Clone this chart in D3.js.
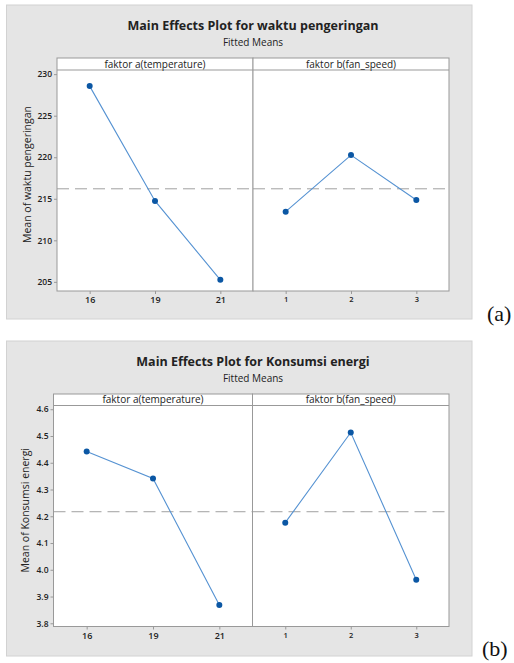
<!DOCTYPE html>
<html>
<head>
<meta charset="utf-8">
<script src="https://cdn.jsdelivr.net/npm/d3@7"></script>
<style>
  body { margin: 0; background: #fff; }
  svg { display: block; font-family: "Open Sans", "Noto Sans", sans-serif; }
</style>
</head>
<body>
<svg id="chart" width="514" height="663"></svg>
<script>
// factor levels
var levelsA = ["16", "19", "21"];
var levelsB = ["1", "2", "3"];
var factorNames = ["faktor a(temperature)", "faktor b(fan_speed)"];

// (a) waktu pengeringan
var waktuA = [228.56, 214.74, 205.24];
var waktuB = [213.45, 220.26, 214.86];
var waktuMean = 216.2;
var waktuTicks = [205, 210, 215, 220, 225, 230];

// (b) konsumsi energi
var energiA = [4.442, 4.341, 3.868];
var energiB = [4.176, 4.513, 3.963];
var energiMean = 4.217;
var energiTicks = [3.8, 3.9, 4.0, 4.1, 4.2, 4.3, 4.4, 4.5, 4.6];

var svg = d3.select("#chart");

function drawPlot(cfg) {
  var g = svg.append("g");

  // gray background panel
  g.append("rect")
    .attr("x", 6.5).attr("y", cfg.top)
    .attr("width", 465.5).attr("height", cfg.bottom - cfg.top)
    .attr("fill", "#e5e5e5").attr("stroke", "#d2d2d2");

  g.append("text")
    .attr("x", 253).attr("y", cfg.titleY)
    .attr("text-anchor", "middle")
    .attr("font-size", 12.5).attr("font-weight", 700).attr("fill", "#222")
    .text(cfg.title);
  g.append("text")
    .attr("x", 253).attr("y", cfg.titleY + 16)
    .attr("text-anchor", "middle")
    .attr("font-size", 10).attr("fill", "#222")
    .text("Fitted Means");

  var y = d3.scaleLinear().domain(cfg.domain).range([cfg.plotBottom, cfg.stripBottom]);

  var panels = [
    { x0: cfg.left, x1: cfg.mid, levels: levelsA, values: cfg.a, name: factorNames[0] },
    { x0: cfg.mid, x1: cfg.right, levels: levelsB, values: cfg.b, name: factorNames[1] }
  ];

  panels.forEach(function (p, i) {
    var x = d3.scalePoint().domain(p.levels).range([p.x0, p.x1]).padding(0.5);
    var pg = g.append("g");

    pg.append("rect")
      .attr("x", p.x0).attr("y", cfg.stripTop)
      .attr("width", p.x1 - p.x0).attr("height", cfg.plotBottom - cfg.stripTop)
      .attr("fill", "#fff");
    pg.append("line")
      .attr("x1", p.x0).attr("x2", p.x1)
      .attr("y1", cfg.stripBottom).attr("y2", cfg.stripBottom)
      .attr("stroke", "#999");
    pg.append("text")
      .attr("x", (p.x0 + p.x1) / 2).attr("y", cfg.stripBottom - 2.5)
      .attr("text-anchor", "middle")
      .attr("font-size", 10).attr("fill", "#222")
      .text(p.name);

    // grand mean reference
    pg.append("line")
      .attr("x1", p.x0).attr("x2", p.x1)
      .attr("y1", y(cfg.mean)).attr("y2", y(cfg.mean))
      .attr("stroke", "#a0a0a0").attr("stroke-width", 1)
      .attr("stroke-dasharray", "12,6");

    var line = d3.line()
      .x(function (d, j) { return x(p.levels[j]); })
      .y(function (d) { return y(d); });
    pg.append("path")
      .datum(p.values)
      .attr("d", line)
      .attr("fill", "none")
      .attr("stroke", "#5592d2").attr("stroke-width", 1.1);
    pg.selectAll("circle")
      .data(p.values)
      .enter().append("circle")
      .attr("cx", function (d, j) { return x(p.levels[j]); })
      .attr("cy", function (d) { return y(d); })
      .attr("r", 3)
      .attr("fill", "#0b57a4");

    var xAxis = pg.append("g")
      .attr("transform", "translate(0," + cfg.plotBottom + ")")
      .call(d3.axisBottom(x).tickSize(3).tickPadding(3));
    xAxis.select(".domain").remove();
    xAxis.selectAll("line").attr("stroke", "#999");
    xAxis.selectAll("text").attr("font-size", i == 0 ? 9 : 7.5).attr("fill", "#222")
      .attr("font-weight", 600)
      .attr("font-family", "'Open Sans', sans-serif");

    pg.append("rect")
      .attr("x", p.x0).attr("y", cfg.stripTop)
      .attr("width", p.x1 - p.x0).attr("height", cfg.plotBottom - cfg.stripTop)
      .attr("fill", "none").attr("stroke", "#999");
  });

  var yAxis = g.append("g")
    .attr("transform", "translate(" + cfg.left + ",0)")
    .call(d3.axisLeft(y).tickValues(cfg.ticks).tickSize(3).tickPadding(2)
      .tickFormat(cfg.format));
  yAxis.select(".domain").remove();
  yAxis.selectAll("line").attr("stroke", "#999");
  yAxis.selectAll("text").attr("font-size", 8.5).attr("fill", "#222")
    .attr("font-weight", 600)
    .attr("font-family", "'Open Sans', sans-serif");

  g.append("text")
    .attr("transform", "translate(" + cfg.ylabelX + "," + ((cfg.stripTop + cfg.plotBottom) / 2) + ") rotate(-90)")
    .attr("text-anchor", "middle")
    .attr("font-size", 10.5).attr("fill", "#222")
    .text(cfg.ylabel);

  svg.append("text")
    .attr("x", cfg.tagX).attr("y", cfg.tagY)
    .attr("font-family", "'Liberation Serif', 'Times New Roman', serif")
    .attr("font-size", 22).attr("fill", "#111")
    .text(cfg.tag);
}

drawPlot({
  top: 5, bottom: 319, titleY: 30,
  left: 57, mid: 253, right: 449,
  stripTop: 58, stripBottom: 70, plotBottom: 291,
  domain: [203.9, 230.5], ticks: waktuTicks, format: d3.format("d"),
  a: waktuA, b: waktuB, mean: waktuMean,
  title: "Main Effects Plot for waktu pengeringan",
  ylabel: "Mean of waktu pengeringan", ylabelX: 31,
  tag: "(a)", tagX: 487, tagY: 321
});

drawPlot({
  top: 341, bottom: 656, titleY: 366,
  left: 53.5, mid: 252.5, right: 449,
  stripTop: 394, stripBottom: 405.5, plotBottom: 626.5,
  domain: [3.788, 4.614], ticks: energiTicks, format: d3.format(".1f"),
  a: energiA, b: energiB, mean: energiMean,
  title: "Main Effects Plot for Konsumsi energi",
  ylabel: "Mean of Konsumsi energi", ylabelX: 29,
  tag: "(b)", tagX: 482, tagY: 656
});
</script>
</body>
</html>
